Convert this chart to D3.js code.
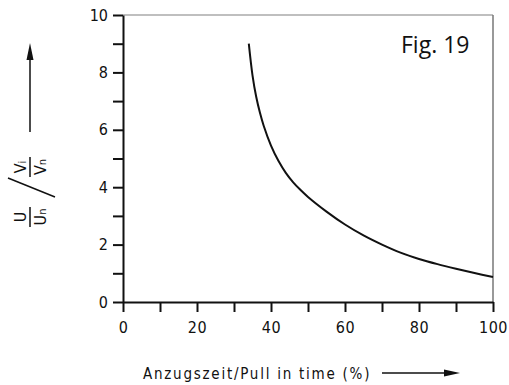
<html>
<head>
    <script src="https://d3js.org/d3.v7.min.js"></script>
    <style>
    body { margin: 0; background: #fff; }
    text { font-family: "DejaVu Sans Condensed", "DejaVu Sans", sans-serif; fill: #111; }
    .axis .domain { stroke: #111; stroke-width: 2; }
    .axis line { stroke: #111; stroke-width: 2; }
    </style>
</head>
<body>
<svg id="all" width="509" height="385"></svg>
<script>
// values
const pullTime = [34, 35, 36, 37, 38, 40, 42, 44, 46, 48, 50, 55, 60, 65, 70, 75, 80, 85, 90, 95, 100];
const voltageRatio = [9.0, 7.9, 7.15, 6.6, 6.15, 5.45, 4.92, 4.5, 4.17, 3.9, 3.66, 3.15, 2.7, 2.32, 2.0, 1.72, 1.5, 1.32, 1.16, 1.01, 0.87];
const xTicks = [0, 10, 20, 30, 40, 50, 60, 70, 80, 90, 100];
const yTicks = [0, 1, 2, 3, 4, 5, 6, 7, 8, 9, 10];
const xLabelled = [0, 20, 40, 60, 80, 100];
const yLabelled = [0, 2, 4, 6, 8, 10];

const svg = d3.select("svg#all");
const margin = {top: 15, right: 16, bottom: 83, left: 123};
const width = +svg.attr("width");
const height = +svg.attr("height");
const chartWidth = width - margin.left - margin.right;
const chartHeight = height - margin.top - margin.bottom;

const xScale = d3.scaleLinear().domain([0, 100]).range([0, chartWidth]);
const yScale = d3.scaleLinear().domain([0, 10]).range([chartHeight, 0]);

const chart = svg.append("g").attr("transform", `translate(${margin.left},${margin.top})`);

// frame top and right
chart.append("line").attr("x1", 0).attr("x2", chartWidth).attr("y1", 0).attr("y2", 0)
    .style("stroke", "#aaa").style("stroke-width", 1.5);
chart.append("line").attr("x1", chartWidth).attr("x2", chartWidth).attr("y1", 0).attr("y2", chartHeight)
    .style("stroke", "#777").style("stroke-width", 1.5);

const bottomAxis = d3.axisBottom(xScale).tickValues(xTicks).tickSize(10).tickPadding(10).tickSizeOuter(0)
    .tickFormat(d => xLabelled.includes(d) ? d : "");
chart.append("g").attr("class", "axis")
    .attr("transform", `translate(0,${chartHeight})`)
    .call(bottomAxis)
    .selectAll("text").style("font-size", "16px").style("letter-spacing", "0.5px");

const leftAxis = d3.axisLeft(yScale).tickValues(yTicks).tickSize(10).tickPadding(5).tickSizeOuter(0)
    .tickFormat(d => yLabelled.includes(d) ? d : "");
chart.append("g").attr("class", "axis")
    .call(leftAxis)
    .selectAll("text").style("font-size", "16px");

const lineGen = d3.line()
    .x((d, i) => xScale(pullTime[i]))
    .y(d => yScale(d))
    .curve(d3.curveCatmullRom);

chart.append("path")
    .attr("d", lineGen(voltageRatio))
    .style("fill", "none")
    .style("stroke", "#111")
    .style("stroke-width", 2);

chart.append("text")
    .attr("x", 278).attr("y", 38)
    .style("font-family", "'Open Sans', sans-serif")
    .style("font-size", "23px")
    .text("Fig. 19");

// x label with arrow
svg.append("text")
    .attr("x", 143).attr("y", 379)
    .style("font-size", "15px")
    .style("letter-spacing", "1.75px")
    .text("Anzugszeit/Pull in time (%)");
svg.append("line").attr("x1", 382).attr("x2", 446).attr("y1", 373).attr("y2", 373)
    .style("stroke", "#111").style("stroke-width", 1.5);
svg.append("path").attr("d", "M444,369.5 L460,373 L444,376.5 Z").style("fill", "#111");

// y label: U/Un / Vi/Vn, rotated
svg.append("line").attr("x1", 30).attr("x2", 30).attr("y1", 132).attr("y2", 58)
    .style("stroke", "#111").style("stroke-width", 1.5);
svg.append("path").attr("d", "M26.5,60 L30,43 L33.5,60 Z").style("fill", "#111");

const yl = svg.append("g").attr("transform", "translate(30,192) rotate(-90)");
function fraction(cx, num, numSub, den, denSub) {
    yl.append("line").attr("x1", cx - 10).attr("x2", cx + 10).attr("y1", 0).attr("y2", 0)
        .style("stroke", "#111").style("stroke-width", 1.5);
    const t1 = yl.append("text").attr("x", cx).attr("y", -4).attr("text-anchor", "middle").style("font-size", "16px");
    t1.append("tspan").text(num);
    if (numSub) t1.append("tspan").style("font-size", "11px").text(numSub);
    const t2 = yl.append("text").attr("x", cx).attr("y", 16).attr("text-anchor", "middle").style("font-size", "16px");
    t2.append("tspan").text(den);
    if (denSub) t2.append("tspan").style("font-size", "11px").text(denSub);
}
fraction(-25, "U", "", "U", "n");
fraction(25, "V", "i", "V", "n");
yl.append("line").attr("x1", -5).attr("y1", 25).attr("x2", 14).attr("y2", -22)
    .style("stroke", "#111").style("stroke-width", 1.5);
</script>
</body>
</html>
